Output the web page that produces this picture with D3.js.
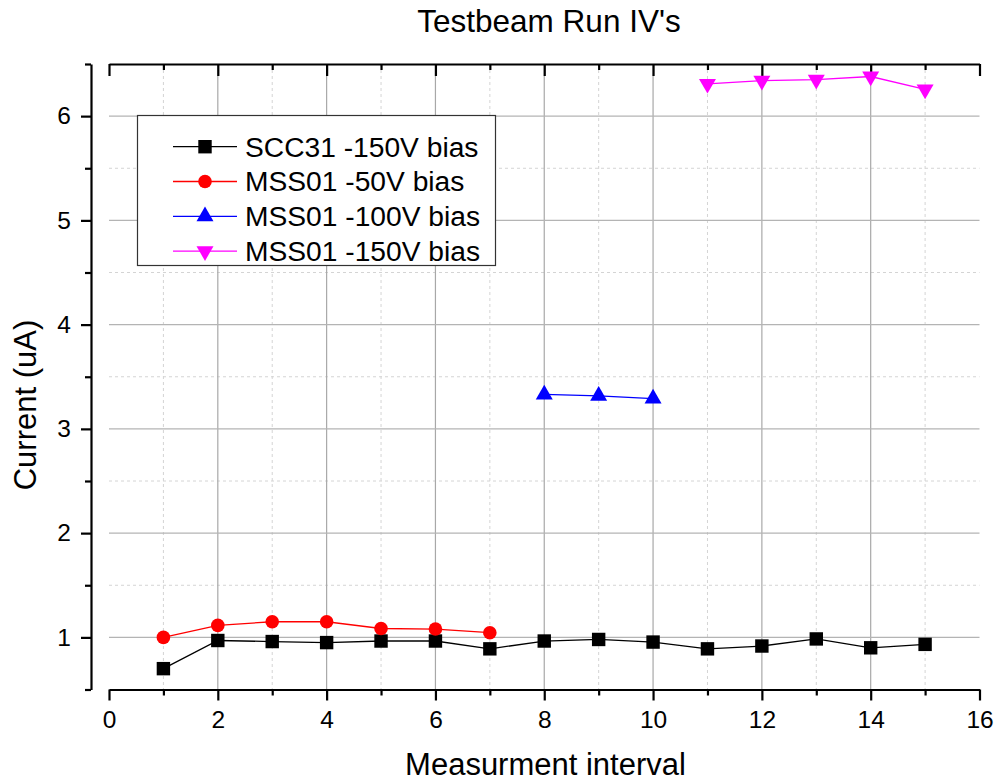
<!DOCTYPE html>
<html>
<head>
<meta charset="utf-8">
<script src="https://cdn.jsdelivr.net/npm/d3@7"></script>
<style>
  html, body { margin: 0; padding: 0; background: #fff; }
  svg { display: block; font-family: "Liberation Sans", Arial, sans-serif; }
</style>
</head>
<body>
<svg id="chart" width="994" height="782"></svg>
<script>
// ---- Data ----
const chartTitle = "Testbeam Run IV's";
const xLabel = "Measurment interval";
const yLabel = "Current (uA)";

const sccX = [1, 2, 3, 4, 5, 6, 7, 8, 9, 10, 11, 12, 13, 14, 15];
const sccY = [0.70, 0.97, 0.96, 0.95, 0.965, 0.965, 0.89, 0.965, 0.98, 0.955, 0.89, 0.917, 0.985, 0.90, 0.933];

const mss50X = [1, 2, 3, 4, 5, 6, 7];
const mss50Y = [1.00, 1.115, 1.15, 1.15, 1.085, 1.08, 1.045];

const mss100X = [8, 9, 10];
const mss100Y = [3.33, 3.316, 3.29];

const mss150X = [11, 12, 13, 14, 15];
const mss150Y = [6.31, 6.34, 6.35, 6.38, 6.257];

const seriesNames = ["SCC31 -150V bias", "MSS01 -50V bias", "MSS01 -100V bias", "MSS01 -150V bias"];
const seriesColors = ["#000000", "#ff0000", "#0000ff", "#ff00ff"];

const xMajorTicks = [0, 2, 4, 6, 8, 10, 12, 14, 16];
const xMinorTicks = [1, 3, 5, 7, 9, 11, 13, 15];
const yMajorTicks = [1, 2, 3, 4, 5, 6];
const yMinorTicks = [0.5, 1.5, 2.5, 3.5, 4.5, 5.5, 6.5];

// ---- Layout ----
const svg = d3.select("#chart");
const pLeft = 109, pRight = 979.5, pTop = 64, pBottom = 689.5;
const yAxisX = 91;

const x = d3.scaleLinear().domain([0, 16]).range([pLeft, pRight]);
const y = d3.scaleLinear().domain([0.5, 6.5]).range([pBottom, pTop]);

// ---- Grid ----
const grid = svg.append("g");
grid.selectAll(".vmin").data(xMinorTicks).join("line")
  .attr("x1", d => x(d)).attr("x2", d => x(d))
  .attr("y1", pTop).attr("y2", pBottom)
  .attr("stroke", "#d4d4d4").attr("stroke-width", 1).attr("stroke-dasharray", "3,3");
grid.selectAll(".hmin").data(yMinorTicks.filter(d => d > 0.5 && d < 6.5)).join("line")
  .attr("x1", pLeft).attr("x2", pRight)
  .attr("y1", d => y(d)).attr("y2", d => y(d))
  .attr("stroke", "#d4d4d4").attr("stroke-width", 1).attr("stroke-dasharray", "3,3");
grid.selectAll(".vmaj").data(xMajorTicks.filter(d => d > 0 && d < 16)).join("line")
  .attr("x1", d => x(d)).attr("x2", d => x(d))
  .attr("y1", pTop).attr("y2", pBottom)
  .attr("stroke", "#a8a8a8").attr("stroke-width", 1.2);
grid.selectAll(".hmaj").data(yMajorTicks).join("line")
  .attr("x1", pLeft).attr("x2", pRight)
  .attr("y1", d => y(d)).attr("y2", d => y(d))
  .attr("stroke", "#b4b4b4").attr("stroke-width", 1.2);

// ---- Axes ----
function styleAxis(g, fontSize) {
  g.selectAll("path.domain").attr("stroke", "#000").attr("stroke-width", 2.2);
  g.selectAll(".tick line").attr("stroke", "#000").attr("stroke-width", 2.2);
  g.selectAll(".tick text").attr("fill", "#000").attr("font-size", fontSize)
    .attr("font-family", "'Liberation Sans', Arial, sans-serif");
}

// bottom
const xb = svg.append("g").attr("transform", `translate(0,${pBottom})`)
  .call(d3.axisBottom(x).tickValues(xMajorTicks).tickSize(11).tickSizeOuter(0).tickPadding(10).tickFormat(d3.format("d")));
styleAxis(xb, 24.5);
const xbm = svg.append("g").attr("transform", `translate(0,${pBottom})`)
  .call(d3.axisBottom(x).tickValues(xMinorTicks).tickSize(6).tickSizeOuter(0).tickFormat(""));
styleAxis(xbm, 24.5);
xbm.select("path.domain").remove();

// top (ticks inward)
const xt = svg.append("g").attr("transform", `translate(0,${pTop})`)
  .call(d3.axisTop(x).tickValues(xMajorTicks).tickSize(-12).tickSizeOuter(0).tickFormat(""));
styleAxis(xt, 24);
const xtm = svg.append("g").attr("transform", `translate(0,${pTop})`)
  .call(d3.axisTop(x).tickValues(xMinorTicks).tickSize(-6).tickSizeOuter(0).tickFormat(""));
styleAxis(xtm, 24);
xtm.select("path.domain").remove();

// left (offset)
const yl = svg.append("g").attr("transform", `translate(${yAxisX},0)`)
  .call(d3.axisLeft(y).tickValues(yMajorTicks).tickSize(10).tickSizeOuter(0).tickPadding(10).tickFormat(d3.format("d")));
styleAxis(yl, 24.5);
const ylm = svg.append("g").attr("transform", `translate(${yAxisX},0)`)
  .call(d3.axisLeft(y).tickValues(yMinorTicks).tickSize(6).tickSizeOuter(0).tickFormat(""));
styleAxis(ylm, 24);
ylm.select("path.domain").remove();

// ---- Series ----
const seriesData = [
  { xs: sccX, ys: sccY, symbol: d3.symbolSquare, size: 180, rot: 0 },
  { xs: mss50X, ys: mss50Y, symbol: d3.symbolCircle, size: 145, rot: 0 },
  { xs: mss100X, ys: mss100Y, symbol: d3.symbolTriangle, size: 125, rot: 0 },
  { xs: mss150X, ys: mss150Y, symbol: d3.symbolTriangle, size: 125, rot: 180 }
];

const line = d3.line().x(d => x(d[0])).y(d => y(d[1]));
seriesData.forEach((s, i) => {
  const pts = s.xs.map((v, k) => [v, s.ys[k]]);
  svg.append("path").datum(pts)
    .attr("d", line).attr("fill", "none")
    .attr("stroke", seriesColors[i]).attr("stroke-width", 1.3);
  svg.append("g").selectAll("path").data(pts).join("path")
    .attr("d", d3.symbol().type(s.symbol).size(s.size))
    .attr("transform", d => `translate(${x(d[0])},${y(d[1])}) rotate(${s.rot})`)
    .attr("fill", seriesColors[i]);
});

// ---- Legend ----
const lg = svg.append("g");
lg.append("rect").attr("x", 137.5).attr("y", 115.5).attr("width", 358).attr("height", 150)
  .attr("fill", "#fff").attr("stroke", "#333").attr("stroke-width", 1.2);
seriesData.forEach((s, i) => {
  const cy = 146.7 + i * 34.8;
  lg.append("line").attr("x1", 173).attr("x2", 237).attr("y1", cy).attr("y2", cy)
    .attr("stroke", seriesColors[i]).attr("stroke-width", 1.3);
  lg.append("path").attr("d", d3.symbol().type(s.symbol).size(s.size))
    .attr("transform", `translate(205,${cy}) rotate(${s.rot})`)
    .attr("fill", seriesColors[i]);
  lg.append("text").attr("x", 245).attr("y", cy).attr("dy", "0.35em")
    .attr("font-size", 28.2).attr("fill", "#000").text(seriesNames[i]);
});

// ---- Titles ----
svg.append("text").attr("x", 549).attr("y", 32).attr("text-anchor", "middle")
  .attr("font-size", 31.5).attr("fill", "#000").text(chartTitle);
svg.append("text").attr("x", 545.5).attr("y", 775).attr("text-anchor", "middle")
  .attr("font-size", 31).attr("fill", "#000").text(xLabel);
svg.append("text").attr("transform", "translate(36,405) rotate(-90)").attr("text-anchor", "middle")
  .attr("font-size", 31).attr("fill", "#000").text(yLabel);
</script>
</body>
</html>
